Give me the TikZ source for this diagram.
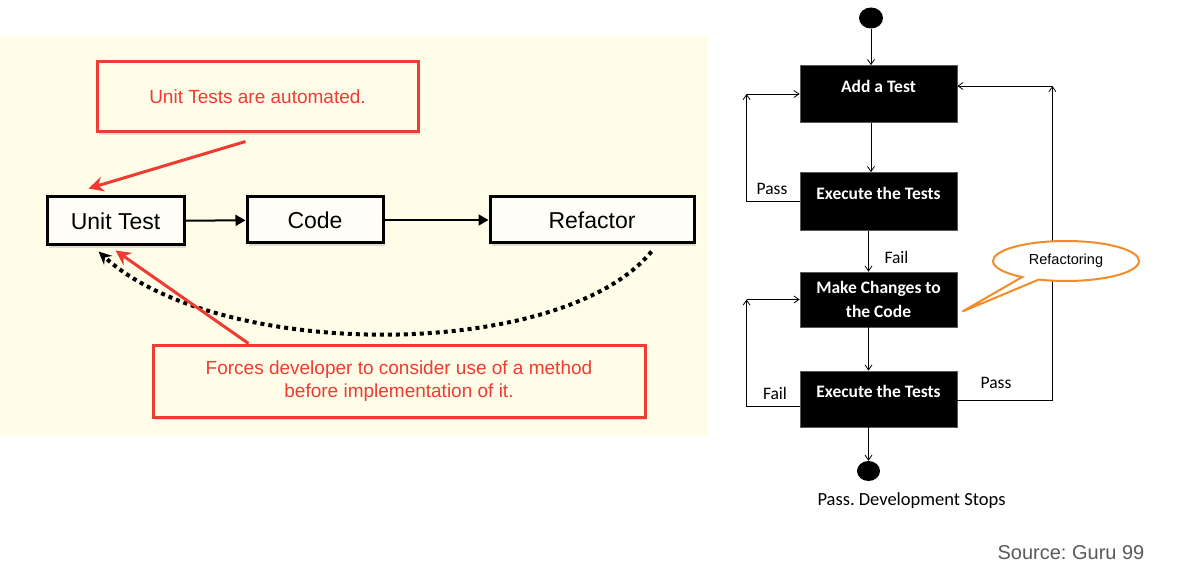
\documentclass[tikz,border=0pt]{standalone}
\usepackage{fontspec}
\setmainfont{Liberation Sans}
\newfontfamily\calfont{Carlito}
\frenchspacing
\usetikzlibrary{arrows.meta,shapes.geometric,shapes.callouts,shadows,calc}
\definecolor{cream}{HTML}{FFFDE8}
\definecolor{callred}{HTML}{EE3B33}
\definecolor{callorange}{HTML}{F28C28}
\definecolor{srcgray}{HTML}{595959}
\begin{document}
\begin{tikzpicture}[x=1pt, y=-1pt,
    redbox/.style={draw=callred, line width=3pt, fill=cream, text=callred,
      font=\fontsize{19}{23}\selectfont, align=center,
      drop shadow={opacity=0.25, shadow xshift=2pt, shadow yshift=-3pt}},
    stagebox/.style={draw=black, line width=3pt, fill=white!60!cream,
      font=\fontsize{23}{27}\selectfont, minimum height=46pt,
      drop shadow={opacity=0.25, shadow xshift=2pt, shadow yshift=-3pt}},
    redarrow/.style={draw=callred, line width=3pt, -{Stealth[length=15pt,width=15pt]}},
    blackarrow/.style={line width=2pt, -{Triangle[length=10pt,width=11pt]}},
    dotarrow/.style={line width=4pt, dash pattern=on 4pt off 4pt,
      -{Stealth[open,length=13pt,width=12pt]}},
    flowbox/.style={draw=gray!70!black, line width=0.8pt, fill=black, text=white,
      font=\calfont\bfseries\fontsize{17.5}{24}\selectfont, minimum width=157pt},
    lifted/.style={text height=12pt, text depth=15pt},
    dot/.style={ellipse, fill=black, minimum width=24pt, minimum height=21pt, inner sep=0pt},
    flow/.style={line width=0.8pt, -{Straight Barb[length=5pt,width=7pt]}},
    lbl/.style={font=\calfont\fontsize{17.5}{20}\selectfont}]

  \useasboundingbox (0,0) rectangle (1192,580);
  \fill[cream] (0,36) rectangle (708,436);

  % left: test first cycle
  \node[redbox, minimum width=321pt, minimum height=70pt] (auto) at (257.5,97) {Unit Tests are automated.};
  \node[stagebox, minimum width=137pt, minimum height=48pt] (unit) at (115.5,221) {Unit Test};
  \node[stagebox, minimum width=136pt] (code) at (315,220) {Code};
  \node[stagebox, minimum width=204pt] (refactor) at (592,220) {Refactor};
  \node[redbox, minimum width=492pt, minimum height=72pt] (force) at (399,381)
    {Forces developer to consider use of a method\\before implementation of it.};

  \draw[blackarrow] (unit) -- (code);
  \draw[blackarrow] (code) -- (refactor);
  \draw[dotarrow] ($(refactor.south east)+(-44,7)$) .. controls +(-90,110) and +(120,110) .. ($(unit.south west)+(53,5)$);
  \draw[redarrow] ($(auto.south)+(-12,8)$) -- ($(unit.north west)+(43,-7)$);
  \draw[redarrow] ($(force.north west)+(97,0)$) -- ($(unit.south)+(0,4)$);

  % right: flow chart
  \node[dot] (start) at (871,18) {};
  \node[flowbox, lifted, minimum height=57pt] (add) at (878.5,94) {Add a Test};
  \node[flowbox, lifted, minimum height=58pt] (exec1) at (878.5,201.5) {Execute the Tests};
  \node[flowbox, align=center, minimum height=55pt] (make) at (878.5,299.5) {Make Changes to\\the Code};
  \node[flowbox, lifted, minimum height=56pt] (exec2) at (878.5,399) {Execute the Tests};
  \node[dot, minimum width=23pt, minimum height=20pt] (stop) at (868.5,471) {};
  \node[lbl, font=\calfont\fontsize{18.5}{20}\selectfont] (stoptxt) at (911.5,501) {Pass. Development Stops};

  \draw[flow] (start) -- (start |- add.north);
  \draw[flow] (add.south -| start) -- (exec1.north -| start);
  \draw[flow] (exec1.south -| stop) -- (make.north -| stop);
  \draw[flow] (make.south -| stop) -- (exec2.north -| stop);
  \draw[flow] (exec2.south -| stop) -- (stop);

  \coordinate (lpa) at ([xshift=-53pt]add.west);
  \draw[flow] (exec1.west) -| (lpa);
  \draw[flow] (lpa) -- (add.west);
  \coordinate (lpb) at ([xshift=-53pt]make.west);
  \draw[flow] ([yshift=-7pt]exec2.west) -| (lpb);
  \draw[flow] (lpb) -- (make.west);
  \coordinate (rp) at ([xshift=95pt,yshift=8pt]add.east);
  \draw[flow] ([yshift=-1pt]exec2.east) -| (rp);
  \draw[flow] (rp) -- (rp -| add.east);

  \node[lbl] (passa) at (772,189) {Pass};
  \node[lbl] (faila) at (896.5,257) {Fail};
  \node[lbl] (failb) at (775,393) {Fail};
  \node[lbl] (passb) at (996,383) {Pass};

  \coordinate (tip) at ([xshift=5pt,yshift=-12pt]make.east);
  \node[ellipse callout, draw=callorange, line width=2pt, fill=white, inner sep=0pt,
    minimum width=146pt, minimum height=40pt, callout absolute pointer={(tip)},
    font=\fontsize{14.5}{17}\selectfont] (refac) at (1066,261) {Refactoring};

  \node[text=srcgray, font=\fontsize{20}{24}\selectfont] (src) at (1071,553) {Source: Guru 99};
\end{tikzpicture}
\end{document}
